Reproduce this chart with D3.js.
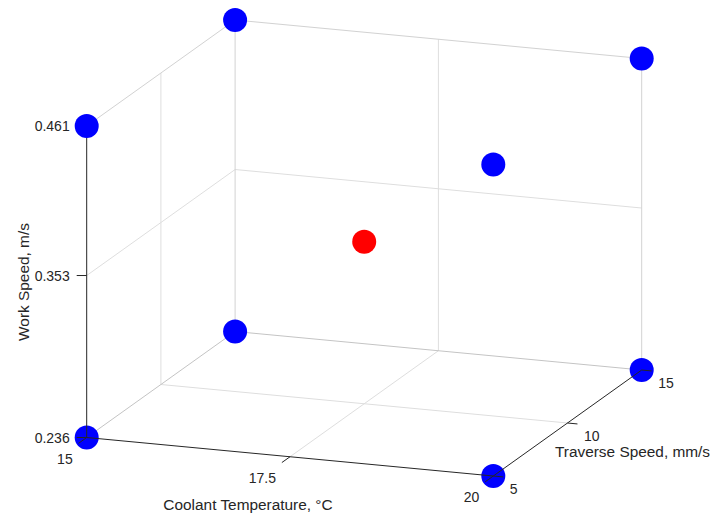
<!DOCTYPE html>
<html>
<head>
<meta charset="utf-8">
<script src="https://cdn.jsdelivr.net/npm/d3@7"></script>
<style>
  html, body { margin: 0; padding: 0; background: #fff; }
  svg text { font-family: "Liberation Sans", Arial, Helvetica, sans-serif; fill: #262626; }
  svg text.tick { font-size: 14px; }
  svg text.title { font-size: 15.4px; }
</style>
</head>
<body>
<svg id="chart" width="714" height="518"></svg>
<script>
// Design points: coolant temperature (°C), traverse speed (mm/s), work speed (m/s)
const coolantTemp   = [15, 20, 20, 15, 15, 20, 20, 15, 17.5];
const traverseSpeed = [5, 5, 15, 15, 5, 5, 15, 15, 10];
const workSpeed     = [0.236, 0.236, 0.236, 0.236, 0.461, 0.461, 0.461, 0.461, 0.353];
const pointKind     = ["corner", "corner", "corner", "corner", "corner", "corner", "corner", "corner", "center"];

const xTicks = [15, 17.5, 20];
const yTicks = [5, 10, 15];
const zTicks = [0.236, 0.353, 0.461];
const xTickLabels = ["15", "17.5", "20"];
const yTickLabels = ["5", "10", "15"];
const zTickLabels = ["0.236", "0.353", "0.461"];

const xLabel = "Coolant Temperature, °C";
const yLabel = "Traverse Speed, mm/s";
const zLabel = "Work Speed, m/s";

// Normalised box coordinates
const sx = d3.scaleLinear().domain([15, 20]).range([0, 1]);
const sy = d3.scaleLinear().domain([5, 15]).range([0, 1]);
const sz = d3.scaleLinear().domain([0.236, 0.461]).range([0, 1]);

// Orthographic view: screen vectors of the unit box edges
const origin = [86.7, 437.5];
const ex = [406.6, 38.5];
const ey = [148.4, -106];
const ez = [0, -311.5];

function proj(x, y, z) {
  const u = sx(x), v = sy(y), w = sz(z);
  return [origin[0] + u * ex[0] + v * ey[0] + w * ez[0],
          origin[1] + u * ex[1] + v * ey[1] + w * ez[1]];
}

const svg = d3.select("#chart");
const gGrid = svg.append("g");
const gPtsBack = svg.append("g");
const gAxes = svg.append("g");
const gPtsFront = svg.append("g");
const gText = svg.append("g");

function seg(g, a, b, color, w) {
  g.append("line")
    .attr("x1", a[0]).attr("y1", a[1]).attr("x2", b[0]).attr("y2", b[1])
    .attr("stroke", color).attr("stroke-width", w || 1);
}

const [x0, x1] = sx.domain();
const [y0, y1] = sy.domain();
const [z0, z1] = sz.domain();
const gridColor = "#dedede";
const boxColor = "#d2d2d2";

// Grid lines on the three back planes
xTicks.slice(1, -1).forEach(t => {
  seg(gGrid, proj(t, y0, z0), proj(t, y1, z0), gridColor);   // floor
  seg(gGrid, proj(t, y1, z0), proj(t, y1, z1), gridColor);   // back wall
});
yTicks.slice(1, -1).forEach(t => {
  seg(gGrid, proj(x0, t, z0), proj(x1, t, z0), gridColor);   // floor
  seg(gGrid, proj(x0, t, z0), proj(x0, t, z1), gridColor);   // left wall
});
zTicks.slice(1, -1).forEach(t => {
  seg(gGrid, proj(x0, y1, t), proj(x1, y1, t), gridColor);   // back wall
  seg(gGrid, proj(x0, y0, t), proj(x0, y1, t), gridColor);   // left wall
});

// Back edges of the box
seg(gGrid, proj(x0, y0, z1), proj(x0, y1, z1), boxColor);
seg(gGrid, proj(x0, y1, z1), proj(x1, y1, z1), boxColor);
seg(gGrid, proj(x1, y1, z0), proj(x1, y1, z1), boxColor);
seg(gGrid, proj(x0, y1, z0), proj(x0, y1, z1), boxColor);
seg(gGrid, proj(x0, y1, z0), proj(x1, y1, z0), "#c4c4c4");
seg(gGrid, proj(x0, y0, z0), proj(x0, y1, z0), "#c4c4c4");

// Axis lines
const axisColor = "#262626";
seg(gAxes, proj(x0, y0, z0), proj(x1, y0, z0), axisColor);
seg(gAxes, proj(x1, y0, z0), proj(x1, y1, z0), axisColor);
seg(gAxes, proj(x0, y0, z0), proj(x0, y0, z1), axisColor);

const tickLen = 10;
function unit(v) { const n = Math.hypot(v[0], v[1]); return [v[0] / n, v[1] / n]; }
const ux = unit(ex), uy = unit(ey);

xTicks.forEach((t, i) => {
  const p = proj(t, y0, z0);
  seg(gAxes, p, [p[0] - uy[0] * tickLen, p[1] - uy[1] * tickLen], axisColor);
  gText.append("text").attr("class", "tick").attr("x", p[0] - 14).attr("y", p[1] + 21)
    .attr("text-anchor", "end").attr("dominant-baseline", "central").text(xTickLabels[i]);
});
yTicks.forEach((t, i) => {
  const p = proj(x1, t, z0);
  seg(gAxes, p, [p[0] + ux[0] * tickLen, p[1] + ux[1] * tickLen], axisColor);
  gText.append("text").attr("class", "tick").attr("x", p[0] + 16.5).attr("y", p[1] + 13)
    .attr("text-anchor", "start").attr("dominant-baseline", "central").text(yTickLabels[i]);
});
zTicks.forEach((t, i) => {
  const p = proj(x0, y0, t);
  seg(gAxes, p, [p[0] - tickLen, p[1]], axisColor);
  gText.append("text").attr("class", "tick").attr("x", p[0] - 17).attr("y", p[1])
    .attr("text-anchor", "end").attr("dominant-baseline", "central").text(zTickLabels[i]);
});

// Axis titles
gText.append("text").attr("class", "title").attr("x", 248).attr("y", 504)
  .attr("text-anchor", "middle").attr("dominant-baseline", "central").text(xLabel);
gText.append("text").attr("class", "title").attr("x", 632.5).attr("y", 451)
  .attr("text-anchor", "middle").attr("dominant-baseline", "central").text(yLabel);
gText.append("text").attr("class", "title").attr("transform", "translate(23,282) rotate(-90)")
  .attr("text-anchor", "middle").attr("dominant-baseline", "central").text(zLabel);

// Design points (bottom-layer points sit under the axis lines)
const pts = coolantTemp.map((c, i) => ({ x: c, y: traverseSpeed[i], z: workSpeed[i], kind: pointKind[i] }));
const color = { corner: "#0000ff", center: "#ff0000" };
[[gPtsBack, pts.filter(d => d.z === z0)], [gPtsFront, pts.filter(d => d.z !== z0)]].forEach(([g, data]) => {
  g.selectAll("circle").data(data).join("circle")
    .attr("cx", d => proj(d.x, d.y, d.z)[0])
    .attr("cy", d => proj(d.x, d.y, d.z)[1])
    .attr("r", 12)
    .attr("fill", d => color[d.kind]);
});
</script>
</body>
</html>
